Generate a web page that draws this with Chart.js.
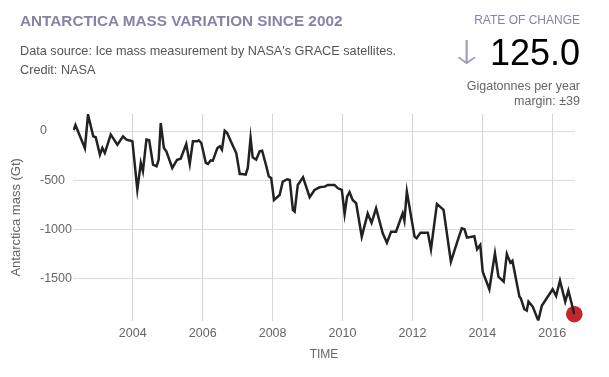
<!DOCTYPE html>
<html>
<head>
<meta charset="utf-8">
<script src="https://cdn.jsdelivr.net/npm/chart.js@4.4.1/dist/chart.umd.min.js"></script>
<style>
  html, body { margin: 0; padding: 0; background: #fff; }
  body { width: 609px; height: 377px; position: relative; overflow: hidden; font-family: "Liberation Sans", Arial, sans-serif; }
  #chart-wrap { position: absolute; left: 0; top: 0; width: 609px; height: 377px; }
  .txt { position: absolute; white-space: nowrap; }
  #title { left: 20px; top: 12px; font-size: 15.3px; line-height: 18px; font-weight: bold; color: #8a82a6; }
  #sub { left: 20px; top: 42px; font-size: 12.7px; line-height: 19px; color: #555; }
  #rate-lbl { right: 29px; top: 11px; font-size: 12px; line-height: 18px; color: #8a82a6; }
  #arrow { left: 448px; top: 35px; font-family: "DejaVu Sans", sans-serif; font-size: 33px; line-height: 36px; color: #a39cbd; font-weight: 200; transform: scaleX(1.35); transform-origin: left top; }
  #rate { right: 29px; top: 34px; font-size: 36px; line-height: 38px; color: #000; }
  #unit { right: 29px; top: 77px; font-size: 12.5px; line-height: 18px; color: #666; }
  #margin { right: 29px; top: 92px; font-size: 12.5px; line-height: 18px; color: #666; }
</style>
</head>
<body>
<div id="chart-wrap"><canvas id="myChart" width="609" height="377"></canvas></div>
<div class="txt" id="title">ANTARCTICA MASS VARIATION SINCE 2002</div>
<div class="txt" id="sub">Data source: Ice mass measurement by NASA's GRACE satellites.<br>Credit: NASA</div>
<div class="txt" id="rate-lbl">RATE OF CHANGE</div>
<div class="txt" id="arrow">&#8595;</div>
<div class="txt" id="rate">125.0</div>
<div class="txt" id="unit">Gigatonnes per year</div>
<div class="txt" id="margin">margin: &plusmn;39</div>
<script>
const years = [
    2002.31, 2002.36, 2002.63, 2002.72, 2002.87, 2002.94, 2003.06, 2003.13, 2003.20, 2003.37,
    2003.56, 2003.72, 2003.82, 2003.94, 2003.99, 2004.13, 2004.23, 2004.29, 2004.39, 2004.47,
    2004.58, 2004.68, 2004.74, 2004.80, 2004.89, 2004.96, 2005.13, 2005.27, 2005.37, 2005.53,
    2005.63, 2005.72, 2005.85, 2005.89, 2005.96, 2006.09, 2006.15, 2006.23, 2006.29, 2006.42,
    2006.49, 2006.55, 2006.63, 2006.70, 2006.84, 2006.96, 2007.06, 2007.12, 2007.23, 2007.29,
    2007.37, 2007.43, 2007.53, 2007.63, 2007.70, 2007.82, 2007.89, 2007.96, 2008.04, 2008.20,
    2008.29, 2008.42, 2008.49, 2008.58, 2008.63, 2008.72, 2008.87, 2009.06, 2009.20, 2009.34,
    2009.49, 2009.58, 2009.77, 2009.87, 2009.98, 2010.06, 2010.13, 2010.20, 2010.29, 2010.39,
    2010.55, 2010.72, 2010.83, 2010.96, 2011.15, 2011.27, 2011.39, 2011.53, 2011.72, 2011.77,
    2011.84, 2012.06, 2012.12, 2012.23, 2012.34, 2012.44, 2012.53, 2012.70, 2012.89, 2013.10,
    2013.30, 2013.41, 2013.49, 2013.56, 2013.77, 2013.85, 2013.94, 2014.01, 2014.20, 2014.36,
    2014.46, 2014.61, 2014.70, 2014.80, 2014.86, 2015.06, 2015.10, 2015.20, 2015.27, 2015.32,
    2015.44, 2015.60, 2015.70, 2016.01, 2016.11, 2016.22, 2016.37, 2016.46, 2016.58, 2016.63
];
// Antarctica mass change in gigatonnes
const mass = [
    10, 60, -175, 166, -54, -64, -241, -173, -224, -37,
    -139, -54, -88, -99, -105, -597, -325, -410, -88, -95,
    -343, -359, -292, 81, -173, -206, -376, -292, -281, -132,
    -335, -105, -105, -95, -122, -325, -335, -298, -302, -173,
    -156, -190, 3, -20, -132, -224, -437, -437, -444, -376,
    -71, -268, -292, -206, -200, -359, -461, -480, -702, -651,
    -515, -491, -498, -803, -820, -549, -471, -674, -600, -573,
    -566, -549, -549, -583, -600, -844, -668, -623, -702, -735,
    -1075, -840, -935, -786, -1040, -1136, -1024, -1024, -837, -912,
    -617, -1075, -1091, -1034, -1034, -1034, -1203, -742, -803, -1329,
    -1108, -990, -1000, -1085, -1070, -1203, -1159, -1431, -1610, -1244,
    -1482, -1533, -1251, -1339, -1319, -1685, -1702, -1813, -1827, -1736,
    -1786, -1929, -1779, -1610, -1678, -1522, -1736, -1624, -1793, -1864
];
const xTicks = [2004, 2006, 2008, 2010, 2012, 2014, 2016];
const yTicks = [0, -500, -1000, -1500];

const points = years.map((y, i) => ({ x: y, y: mass[i] }));
const lastPoint = [points[points.length - 1]];

const axisFont = { family: "'Liberation Sans', Arial, sans-serif", size: 12.5 };

var ctx = document.getElementById('myChart');
var chart = new Chart(ctx, {
    type: 'line',
    data: {
        datasets: [
            {
                label: 'Antarctica mass',
                data: points,
                borderColor: '#222222',
                borderWidth: 2.5,
                pointRadius: 0,
                tension: 0,
                fill: false
            },
            {
                label: 'latest',
                data: lastPoint,
                showLine: false,
                pointRadius: 8.3,
                pointBackgroundColor: '#c1272d',
                pointBorderWidth: 0,
                clip: false
            }
        ]
    },
    options: {
        responsive: false,
        animation: false,
        layout: { padding: { top: 114, right: 34, left: 0, bottom: 0 } },
        plugins: {
            legend: { display: false },
            tooltip: { enabled: false }
        },
        scales: {
            x: {
                type: 'linear',
                min: 2002.29,
                max: 2016.65,
                grid: { color: '#d6d6d6', drawTicks: false },
                border: { display: false },
                afterBuildTicks: (scale) => { scale.ticks = xTicks.map(v => ({ value: v })); },
                afterFit: (scale) => { scale.height = 56.3; },
                ticks: {
                    padding: 5,
                    color: '#666',
                    font: axisFont,
                    maxRotation: 0,
                    callback: (v) => String(v)
                },
                title: {
                    display: true,
                    text: 'TIME',
                    color: '#666',
                    font: { family: "'Liberation Sans', Arial, sans-serif", size: 12 },
                    padding: { top: 0, bottom: 15 }
                }
            },
            y: {
                type: 'linear',
                position: 'left',
                weight: 0,
                min: -1930,
                max: 173,
                grid: { color: '#dcdcdc', drawTicks: false },
                border: { display: false },
                afterBuildTicks: (scale) => { scale.ticks = yTicks.map(v => ({ value: v })); },
                afterFit: (scale) => { scale.width = 33; },
                ticks: {
                    crossAlign: 'far',
                    padding: 0,
                    color: '#666',
                    font: axisFont,
                    callback: (v) => String(v)
                }
            },
            yTitle: {
                type: 'linear',
                position: 'left',
                weight: 1,
                grid: { display: false },
                border: { display: false },
                ticks: { display: false },
                afterFit: (scale) => { scale.width = 40; },
                title: {
                    display: true,
                    text: 'Antarctica mass (Gt)',
                    color: '#666',
                    font: { family: "'Liberation Sans', Arial, sans-serif", size: 13 },
                    padding: { top: 9, bottom: 0 }
                }
            }
        }
    }
});
</script>
</body>
</html>
